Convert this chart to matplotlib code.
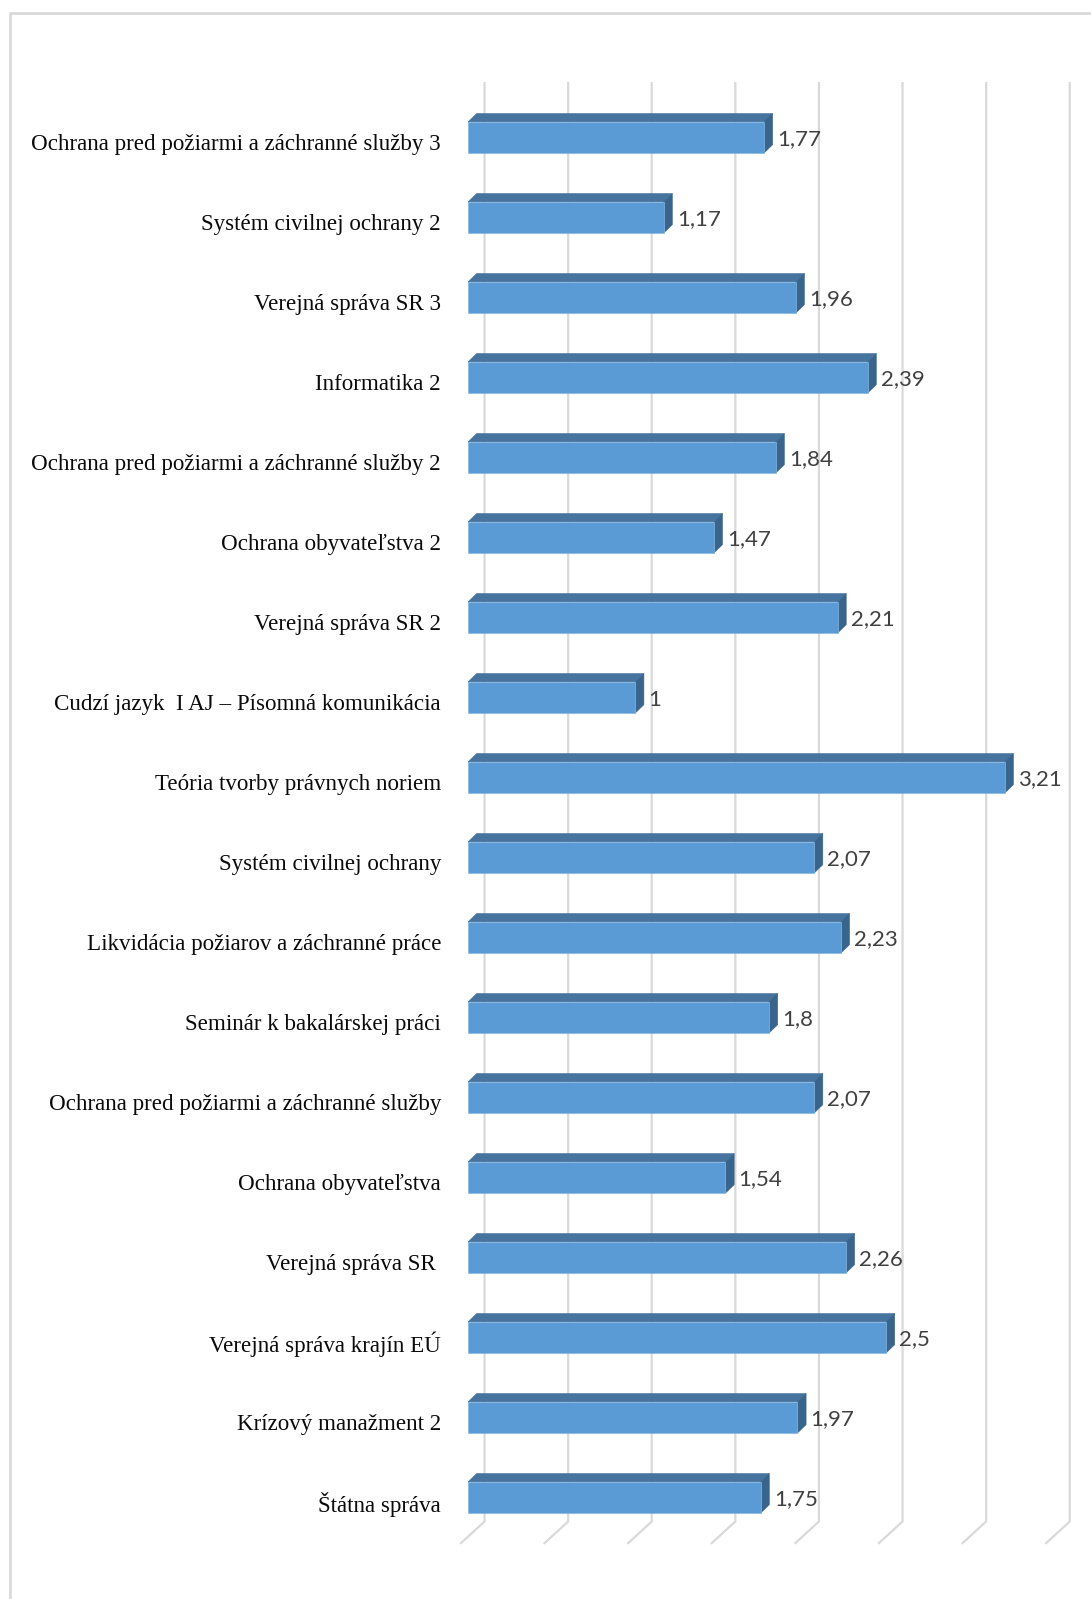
import matplotlib
matplotlib.use('Agg')
import matplotlib.pyplot as plt
from matplotlib.lines import Line2D
from matplotlib.patches import Polygon

subjects = [
    'Ochrana pred požiarmi a záchranné služby 3',
    'Systém civilnej ochrany 2',
    'Verejná správa SR 3',
    'Informatika 2',
    'Ochrana pred požiarmi a záchranné služby 2',
    'Ochrana obyvateľstva 2',
    'Verejná správa SR 2',
    'Cudzí jazyk  I AJ – Písomná komunikácia',
    'Teória tvorby právnych noriem',
    'Systém civilnej ochrany',
    'Likvidácia požiarov a záchranné práce',
    'Seminár k bakalárskej práci',
    'Ochrana pred požiarmi a záchranné služby',
    'Ochrana obyvateľstva',
    'Verejná správa SR ',
    'Verejná správa krajín EÚ',
    'Krízový manažment 2',
    'Štátna správa',
]
values = [1.77, 1.17, 1.96, 2.39, 1.84, 1.47, 2.21, 1, 3.21,
          2.07, 2.23, 1.8, 2.07, 1.54, 2.26, 2.5, 1.97, 1.75]
value_labels = ['1,77', '1,17', '1,96', '2,39', '1,84', '1,47', '2,21', '1', '3,21',
                '2,07', '2,23', '1,8', '2,07', '1,54', '2,26', '2,5', '1,97', '1,75']
grid_ticks = [0, 0.5, 1, 1.5, 2, 2.5, 3, 3.5]

W, H = 1091, 1599
BLUE = '#5b9bd5'
TOP = '#46749f'
SIDE = '#39658c'
GRID = '#d9d9d9'

fig = plt.figure(figsize=(W / 100, H / 100), dpi=100)

# frame of the pasted screenshot, left and top only
fig.add_artist(Line2D([10 / W, 10 / W, 1], [0, 1 - 13 / H, 1 - 13 / H],
                      color=GRID, lw=2, transform=fig.transFigure))

# x=0 sits at 468 px, one unit is 167.2 px, one row is 80 px
ax = fig.add_axes([468 / W, 1 - 1543.1 / H, 602 / W, (1543.1 - 57.5) / H])
ax.set_xlim(0, 602 / 167.2)
ax.set_ylim(17.57, -1)
ax.axis('off')

# fake 3d depth, in data units
dx = 0.052
dy = 0.105
back = 0.099
front = -0.042

for t in grid_ticks:
    ax.plot([t + back, t + back, t + front], [-0.68, 17.3, 17.57],
            color=GRID, lw=1.6, clip_on=False, zorder=1)

rows = list(range(len(values)))
h = 0.39
ax.barh(rows, values, height=h, color=BLUE, edgecolor='#86b6e3', linewidth=0.5, zorder=3)

for y, v, s, txt in zip(rows, values, subjects, value_labels):
    up = y - h / 2
    down = y + h / 2
    ax.add_patch(Polygon([(0, up), (dx, up - dy), (v + dx, up - dy), (v, up)],
                         facecolor=TOP, edgecolor=TOP, linewidth=0.4, zorder=2))
    ax.add_patch(Polygon([(v, up), (v + dx, up - dy), (v + dx, down - dy), (v, down)],
                         facecolor=SIDE, edgecolor=SIDE, linewidth=0.4, zorder=2))
    ax.text(v + 0.079, y + 0.025, txt, ha='left', va='center', fontsize=16,
            family='Lato', color='#404040', clip_on=False)
    ax.text(-0.161, y + 0.09, s, ha='right', va='center', fontsize=16.6,
            family='Liberation Serif', color='#0a0a0a', clip_on=False)

fig.savefig('out.png', dpi=100)
